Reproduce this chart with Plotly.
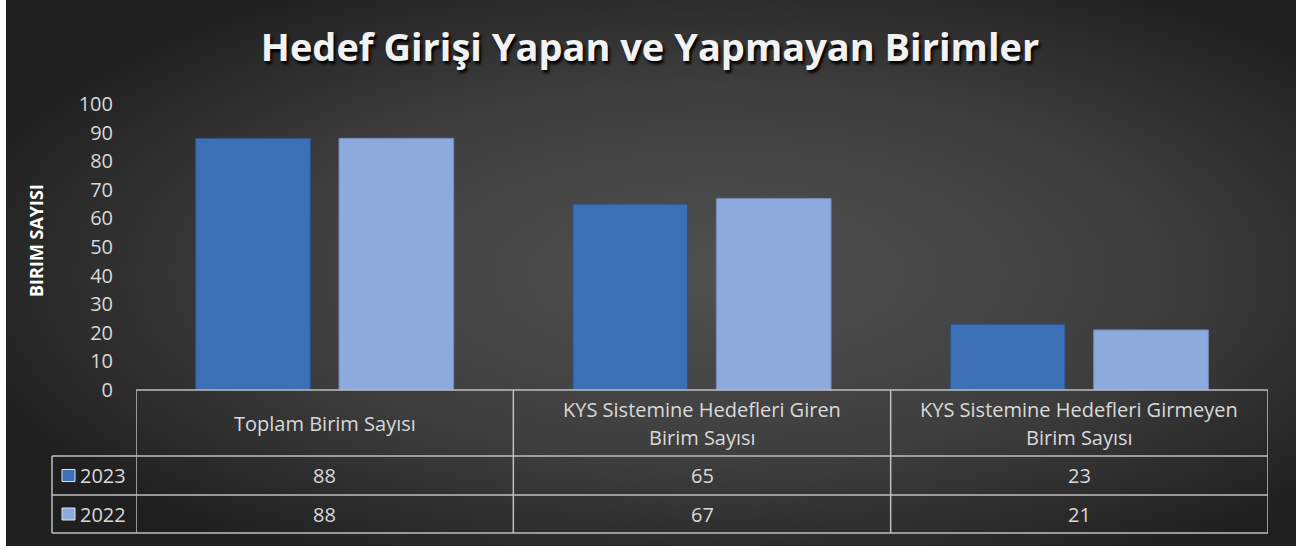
import base64
import plotly.graph_objects as go

# ---- data ----
categories = ["Toplam Birim Sayısı",
              "KYS Sistemine Hedefleri Giren<br>Birim Sayısı",
              "KYS Sistemine Hedefleri Girmeyen<br>Birim Sayısı"]
series_names = ["2023", "2022"]
values_2023 = [88, 65, 23]
values_2022 = [88, 67, 21]
y_ticks = [0, 10, 20, 30, 40, 50, 60, 70, 80, 90, 100]
title_text = "Hedef Girişi Yapan ve Yapmayan Birimler"
y_title = "BIRIM SAYISI"

# ---- geometry (pixels) ----
W, H = 1308, 550
L, R = 136, 1268
T, B0 = 104, 390
pw, ph = R - L, B0 - T


def px_x(p):
    return (p - L) / pw


def px_y(p):
    return (B0 - p) / ph


col_2023 = "#3B6FB6"
col_2022 = "#8EAADC"
txt_col = "#D9D9D9"
line_col = "#BFBFBF"
font_family = "Open Sans, Noto Sans, sans-serif"

x_idx = list(range(len(categories)))

fig = go.Figure()
fig.add_trace(go.Bar(x=x_idx, y=values_2023, name=series_names[0],
                     marker=dict(color=col_2023, line=dict(color="#2A5288", width=1))))
fig.add_trace(go.Bar(x=x_idx, y=values_2022, name=series_names[1],
                     marker=dict(color=col_2022, line=dict(color="#6F89B8", width=1))))

# background gradient as SVG image
svg = f'''<svg xmlns="http://www.w3.org/2000/svg" width="1290" height="546" viewBox="0 0 1290 546" preserveAspectRatio="none">
<defs><radialGradient id="g" cx="0.55" cy="0.5" r="0.62" gradientUnits="objectBoundingBox">
<stop offset="0" stop-color="#505050"/><stop offset="0.55" stop-color="#3E3E3E"/><stop offset="1" stop-color="#1F1F1F"/></radialGradient></defs>
<rect width="1290" height="546" fill="url(#g)"/></svg>'''
src = "data:image/svg+xml;base64," + base64.b64encode(svg.encode()).decode()

images = [dict(source=src, xref="paper", yref="paper", x=px_x(6), y=px_y(0),
               sizex=1290 / pw, sizey=546 / ph, sizing="stretch", layer="below",
               xanchor="left", yanchor="top")]

# table rows (pixel boundaries)
rows = [390, 456, 495, 533]
leg_left = 52
shapes = []
line = dict(color=line_col, width=1.5)
shapes.append(dict(type="line", xref="paper", yref="paper", x0=0, x1=1,
                   y0=px_y(rows[0]), y1=px_y(rows[0]), line=line))
for r in rows[1:]:
    shapes.append(dict(type="line", xref="paper", yref="paper", x0=px_x(leg_left), x1=1,
                       y0=px_y(r), y1=px_y(r), line=line))
for b in [-0.5, 0.5, 1.5, 2.5]:
    shapes.append(dict(type="line", xref="x", yref="paper", x0=b, x1=b,
                       y0=px_y(rows[0]), y1=px_y(rows[3]), line=line))
shapes.append(dict(type="line", xref="paper", yref="paper", x0=px_x(leg_left), x1=px_x(leg_left),
                   y0=px_y(rows[1]), y1=px_y(rows[3]), line=line))

annotations = []
for i, c in enumerate(categories):
    parts = c.split("<br>")
    mid = (rows[0] + rows[1]) / 2
    n = len(parts)
    for k, p in enumerate(parts):
        yy = mid + (k - (n - 1) / 2) * 28
        annotations.append(dict(x=i, y=px_y(yy), xref="x", yref="paper", text=p,
                                showarrow=False, font=dict(size=20, color=txt_col, family=font_family),
                                xanchor="center", yanchor="middle"))
for r_i, (name, vals, col) in enumerate([(series_names[0], values_2023, col_2023),
                                        (series_names[1], values_2022, col_2022)]):
    mid = (rows[r_i + 1] + rows[r_i + 2]) / 2
    for i, v in enumerate(vals):
        annotations.append(dict(x=i, y=px_y(mid), xref="x", yref="paper", text=str(v),
                                showarrow=False, font=dict(size=20, color=txt_col, family=font_family),
                                xanchor="center", yanchor="middle"))
    annotations.append(dict(x=px_x(78), y=px_y(mid), xref="paper", yref="paper", text=name,
                            showarrow=False, font=dict(size=20, color=txt_col, family=font_family),
                            xanchor="left", yanchor="middle"))
    shapes.append(dict(type="rect", xref="paper", yref="paper", x0=px_x(62), x1=px_x(75),
                       y0=px_y(mid + 6), y1=px_y(mid - 6), fillcolor=col,
                       line=dict(color="#DDE6F5", width=1)))

annotations.append(dict(x=px_x(36), y=px_y(241), xref="paper", yref="paper", text="<b>" + y_title + "</b>",
                        textangle=-90, showarrow=False,
                        font=dict(size=18, color="#FFFFFF", family=font_family),
                        xanchor="center", yanchor="middle"))

fig.update_layout(
    width=W, height=H,
    margin=dict(l=L, r=W - R, t=T, b=H - B0, pad=0),
    paper_bgcolor="#FFFFFF",
    plot_bgcolor="rgba(0,0,0,0)",
    barmode="group", bargap=0.24, bargroupgap=0.2,
    showlegend=False,
    title=dict(text="<b>" + title_text + "</b>", x=px_x(650), xref="paper", xanchor="center",
               y=1 - 48 / H, yanchor="middle",
               font=dict(size=38, color="#F2F2F2", family=font_family,
                         shadow="2px 3px 3px #000000")),
    xaxis=dict(range=[-0.5, 2.5], showticklabels=False, showgrid=False, zeroline=False,
               showline=False, ticks=""),
    yaxis=dict(range=[0, 100], tickvals=y_ticks, showgrid=False, zeroline=False,
               showline=False, ticks="", ticklabelstandoff=22,
               tickfont=dict(size=20, color=txt_col, family=font_family)),
    images=images, shapes=shapes, annotations=annotations,
)

fig.write_html("out.html", config={"displayModeBar": False},
               post_script="document.body.style.margin='0';")
